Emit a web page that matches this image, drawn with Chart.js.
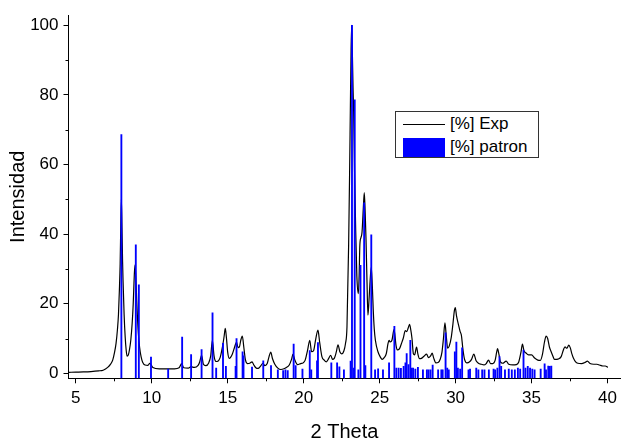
<!DOCTYPE html>
<html>
<head>
<meta charset="utf-8">
<script src="https://cdn.jsdelivr.net/npm/chart.js@4.4.1/dist/chart.umd.min.js"></script>
<style>
  body { margin: 0; background: #fff; }
  #wrap { position: relative; width: 622px; height: 442px; }
  #legend {
    position: absolute; left: 395px; top: 111px; width: 142px; height: 45px;
    border: 1px solid #333; background: #fff;
    font-family: "Liberation Sans", Arial, sans-serif; font-size: 17px; color: #000;
  }
  #legend .row { position: absolute; left: 0; height: 20px; line-height: 20px; }
  #legend .txt { position: absolute; left: 54px; white-space: nowrap; }
  #legend .line { position: absolute; left: 7px; top: 10px; width: 42px; height: 1px; background: #000; }
  #legend .box { position: absolute; left: 7px; top: 1px; width: 42px; height: 19px; background: #0000ff; }
</style>
</head>
<body>
<div id="wrap">
  <canvas id="chart" width="622" height="442"></canvas>
  <div id="legend">
    <div class="row" style="top:2px"><div class="line"></div><span class="txt">[%] Exp</span></div>
    <div class="row" style="top:25px"><div class="box"></div><span class="txt">[%] patron</span></div>
  </div>
</div>
<script>
// experimental pattern (2 theta, %)
var expTheta = [4.55, 5.0, 5.5, 6.0, 6.5, 6.8, 7.1, 7.3, 7.43, 7.55, 7.65, 7.74, 7.81, 7.87, 7.92, 7.96, 8.0, 8.04, 8.08, 8.11, 8.18, 8.25, 8.32, 8.38, 8.46, 8.53, 8.62, 8.71, 8.78, 8.82, 8.86, 8.9, 8.95, 9.01, 9.06, 9.12, 9.2, 9.3, 9.4, 9.56, 9.75, 9.87, 9.95, 10.07, 10.5, 11.08, 11.5, 11.8, 11.97, 12.1, 12.4, 12.59, 12.8, 13.05, 13.15, 13.28, 13.4, 13.55, 13.75, 13.88, 13.99, 14.1, 14.2, 14.3, 14.5, 14.65, 14.76, 14.84, 14.92, 15.0, 15.1, 15.3, 15.45, 15.58, 15.68, 15.77, 15.86, 15.96, 16.06, 16.16, 16.3, 16.45, 16.6, 16.72, 16.85, 17.0, 17.15, 17.32, 17.45, 17.6, 17.72, 17.83, 17.95, 18.09, 18.3, 18.5, 18.7, 18.86, 19.05, 19.2, 19.3, 19.42, 19.6, 19.8, 19.96, 20.1, 20.25, 20.4, 20.52, 20.65, 20.8, 20.94, 21.05, 21.2, 21.35, 21.49, 21.65, 21.78, 21.9, 22.0, 22.14, 22.26, 22.38, 22.5, 22.65, 22.75, 22.85, 22.96, 23.03, 23.07, 23.12, 23.16, 23.2, 23.25, 23.29, 23.35, 23.42, 23.5, 23.6, 23.65, 23.7, 23.77, 23.84, 23.92, 23.99, 24.05, 24.1, 24.17, 24.23, 24.3, 24.36, 24.45, 24.52, 24.58, 24.65, 24.72, 24.89, 25.03, 25.17, 25.3, 25.44, 25.55, 25.62, 25.7, 25.81, 25.95, 26.08, 26.16, 26.3, 26.43, 26.55, 26.69, 26.78, 26.88, 26.97, 27.05, 27.13, 27.22, 27.3, 27.43, 27.52, 27.62, 27.75, 27.92, 28.09, 28.22, 28.35, 28.46, 28.55, 28.7, 28.85, 29.0, 29.1, 29.2, 29.3, 29.38, 29.48, 29.58, 29.72, 29.82, 29.92, 29.98, 30.06, 30.2, 30.3, 30.38, 30.48, 30.59, 30.75, 30.92, 31.05, 31.2, 31.35, 31.5, 31.7, 31.86, 32.0, 32.17, 32.3, 32.45, 32.6, 32.7, 32.76, 32.85, 32.95, 33.1, 33.33, 33.5, 33.77, 33.99, 34.15, 34.3, 34.4, 34.5, 34.62, 34.8, 35.0, 35.2, 35.41, 35.58, 35.72, 35.85, 35.96, 36.06, 36.18, 36.29, 36.4, 36.51, 36.75, 36.95, 37.1, 37.2, 37.32, 37.45, 37.55, 37.66, 37.76, 37.9, 38.04, 38.3, 38.5, 38.68, 38.85, 39.1, 39.3, 39.47, 39.7, 39.85, 40.02];
var expIntensity = [0.3, 0.35, 0.4, 0.5, 0.7, 0.9, 1.7, 2.7, 3.8, 6, 8.6, 12.5, 17, 24, 31.5, 42, 50, 42, 32, 26.7, 17, 10.5, 6.5, 4.9, 5.3, 6.7, 9.5, 14.3, 20, 24.7, 29, 31.2, 28, 21, 16, 11.4, 7.5, 4.7, 3.2, 2.4, 2.3, 2.9, 2.5, 1.7, 1.3, 1.3, 1.3, 1.6, 2.8, 1.6, 1.5, 1.9, 1.7, 2.3, 3.2, 5.2, 2.6, 2.2, 3, 5, 9.5, 5, 3.5, 3.4, 4.5, 7.5, 10.5, 12.9, 10, 6, 4.3, 5.5, 7.5, 9, 7.4, 7.6, 9.5, 10.7, 7.5, 4, 2.8, 2.9, 3.3, 2.4, 1.6, 1.4, 2, 2.9, 2.2, 2.8, 4.8, 6.1, 4.2, 2.7, 1.5, 1.1, 1.3, 1.7, 2.4, 4, 5.5, 3.8, 2.5, 2.8, 3, 3.8, 6.5, 9.5, 6.2, 6.5, 10, 12.4, 9, 4.8, 3.8, 3.3, 4.3, 5.2, 4, 4.2, 6, 8.2, 6.2, 5.6, 6.5, 8.5, 13.3, 37, 60, 75, 93, 100, 93, 82, 75, 58, 41.9, 28, 22.9, 28, 37, 39, 40.5, 47, 51.9, 46, 39, 26, 16.7, 21, 25.7, 30.5, 25, 18.1, 12.5, 9.5, 6.2, 4.8, 4, 4.5, 5.7, 8.5, 9.5, 9, 9.5, 12.6, 8, 6.7, 7, 8.5, 10, 12.3, 12, 13, 14.1, 12.5, 10, 5.6, 5.3, 7.5, 5.5, 4.2, 4.3, 4.9, 5.5, 4.5, 5, 5.8, 4.5, 3, 3.1, 4.2, 6, 10, 14.5, 11, 7.2, 7.8, 10.5, 14, 18, 18.9, 16.5, 13.8, 12, 11, 7, 4, 3, 3.3, 4, 5.5, 3.6, 2.9, 2.6, 2.4, 2.7, 3.8, 2.8, 2.8, 3.7, 6, 7.1, 5.5, 3.3, 2.9, 3.5, 2.6, 2.4, 2.5, 3.2, 6, 8.4, 6.5, 5.9, 5.3, 5.3, 4.4, 3.8, 3.7, 5.5, 9, 10.7, 10, 7.5, 6.2, 5, 4, 4.1, 4.8, 6.8, 7.6, 7.2, 8.1, 7.3, 5.5, 4.3, 3.3, 2.9, 2.8, 3.1, 3.5, 2.8, 2.6, 2.6, 2.4, 2.1, 2.1, 1.7];

// reference pattern sticks (2 theta, %)
var patronTheta = [8.0, 8.95, 9.15, 9.95, 11.08, 12.0, 12.59, 13.28, 14.0, 14.24, 14.69, 14.88, 15.52, 15.58, 15.98, 16.04, 16.6, 17.34, 17.85, 18.3, 18.65, 18.8, 18.95, 19.34, 19.47, 19.92, 20.4, 20.5, 20.88, 20.94, 21.82, 22.2, 22.35, 22.65, 23.09, 23.18, 23.31, 23.36, 23.6, 23.74, 23.98, 24.06, 24.45, 24.7, 24.9, 25.22, 25.62, 25.97, 26.1, 26.25, 26.4, 26.58, 26.7, 26.78, 26.9, 27.02, 27.1, 27.2, 27.35, 27.52, 27.85, 28.11, 28.22, 28.35, 28.49, 28.85, 29.06, 29.15, 29.34, 29.45, 29.55, 29.95, 30.05, 30.15, 30.3, 30.43, 30.85, 30.95, 31.36, 31.5, 31.75, 31.9, 32.19, 32.5, 32.6, 32.75, 32.89, 33.0, 33.25, 33.5, 33.7, 33.9, 34.1, 34.25, 34.47, 34.6, 34.75, 34.9, 35.05, 35.2, 35.6, 35.86, 35.95, 36.1, 36.2, 36.3];
var patronIntensity = [68.6, 36.9, 25.4, 4.7, 1.2, 10.4, 5.4, 6.8, 17.4, 1.5, 8.6, 2, 2, 10, 6.2, 5, 1.8, 3.6, 2.2, 1, 0.8, 1, 0.8, 8.4, 2.2, 1.2, 6.5, 1, 3.6, 8.8, 3, 3, 1.9, 1, 3.5, 100, 1.5, 78.6, 1, 31, 49, 2.2, 39.8, 1, 1.3, 1, 3, 13.5, 1.5, 1.5, 1.4, 2, 3, 5.7, 2.5, 9.5, 1.5, 1.5, 1.2, 1.7, 1, 1, 1, 1, 2.4, 1, 1, 1, 11.6, 1.5, 1, 6.2, 9, 1.5, 1.2, 7.3, 1, 1.2, 1.5, 1, 1, 1, 1, 1.2, 1, 1.5, 4.8, 2, 1, 1.2, 1, 1, 1.5, 1.2, 6.7, 1.5, 2, 1.5, 1.2, 1, 1.2, 2.7, 1, 2.1, 2, 2.1];

// axes
var xTicks = [5, 10, 15, 20, 25, 30, 35, 40];
var xMinorTicks = [7.5, 12.5, 17.5, 22.5, 27.5, 32.5, 37.5];
var yTicks = [0, 20, 40, 60, 80, 100];
var yMinorTicks = [10, 30, 50, 70, 90];
var xMin = 4.52, xMax = 40.85;
var yMin = -1.43, yMax = 102.9;

var FONT = "'Liberation Sans', Arial, sans-serif";

// short minor ticks, drawn outward like the major ones
var minorTicks = {
  id: "minorTicks",
  afterDraw: function (chart) {
    var ctx = chart.ctx, area = chart.chartArea;
    var x = chart.scales.x, y = chart.scales.y;
    ctx.save();
    ctx.strokeStyle = "#000";
    ctx.lineWidth = 1;
    ctx.beginPath();
    xMinorTicks.forEach(function (v) {
      var px = Math.round(x.getPixelForValue(v)) + 0.5;
      ctx.moveTo(px, area.bottom);
      ctx.lineTo(px, area.bottom + 3);
    });
    yMinorTicks.forEach(function (v) {
      var py = Math.round(y.getPixelForValue(v)) + 0.5;
      ctx.moveTo(area.left, py);
      ctx.lineTo(area.left - 3, py);
    });
    ctx.stroke();
    ctx.restore();
  },
};

new Chart(document.getElementById("chart"), {
  data: {
    datasets: [
      {
        type: "bar",
        label: "[%] patron",
        data: patronTheta.map(function (t, i) { return { x: t, y: patronIntensity[i] }; }),
        backgroundColor: "#0000ff",
        barThickness: 1.2,
        grouped: false,
        base: yMin,
        order: 0,
      },
      {
        type: "line",
        label: "[%] Exp",
        data: expTheta.map(function (t, i) { return { x: t, y: expIntensity[i] }; }),
        borderColor: "#000",
        borderWidth: 1.2,
        pointRadius: 0,
        cubicInterpolationMode: "monotone",
        order: 1,
      },
    ],
  },
  options: {
    responsive: false,
    animation: false,
    layout: { padding: { top: 13, right: 1, left: 0, bottom: 0 } },
    plugins: { legend: { display: false }, tooltip: { enabled: false } },
    scales: {
      x: {
        type: "linear",
        offset: false,
        min: xMin,
        max: xMax,
        afterFit: function (s) { s.height = 63.7; },
        afterBuildTicks: function (s) { s.ticks = xTicks.map(function (v) { return { value: v }; }); },
        grid: { offset: false, drawOnChartArea: false, tickLength: 5, tickColor: "#000" },
        border: { color: "#000", width: 1 },
        ticks: { color: "#000", padding: 5, maxRotation: 0, font: { family: FONT, size: 17 } },
        title: { display: true, text: "2 Theta", color: "#000", font: { family: FONT, size: 20, lineHeight: 1 }, padding: { top: 0, bottom: 0 } },
      },
      y: {
        type: "linear",
        min: yMin,
        max: yMax,
        afterFit: function (s) { s.width = 68.5; },
        afterBuildTicks: function (s) { s.ticks = yTicks.map(function (v) { return { value: v }; }); },
        grid: { drawOnChartArea: false, tickLength: 5, tickColor: "#000" },
        border: { color: "#000", width: 1 },
        ticks: { color: "#000", padding: 5, font: { family: FONT, size: 17 } },
        title: { display: true, text: "Intensidad", color: "#000", font: { family: FONT, size: 20, lineHeight: 1 }, padding: { top: 8, bottom: 0 } },
      },
    },
  },
  plugins: [minorTicks],
});
</script>
</body>
</html>
